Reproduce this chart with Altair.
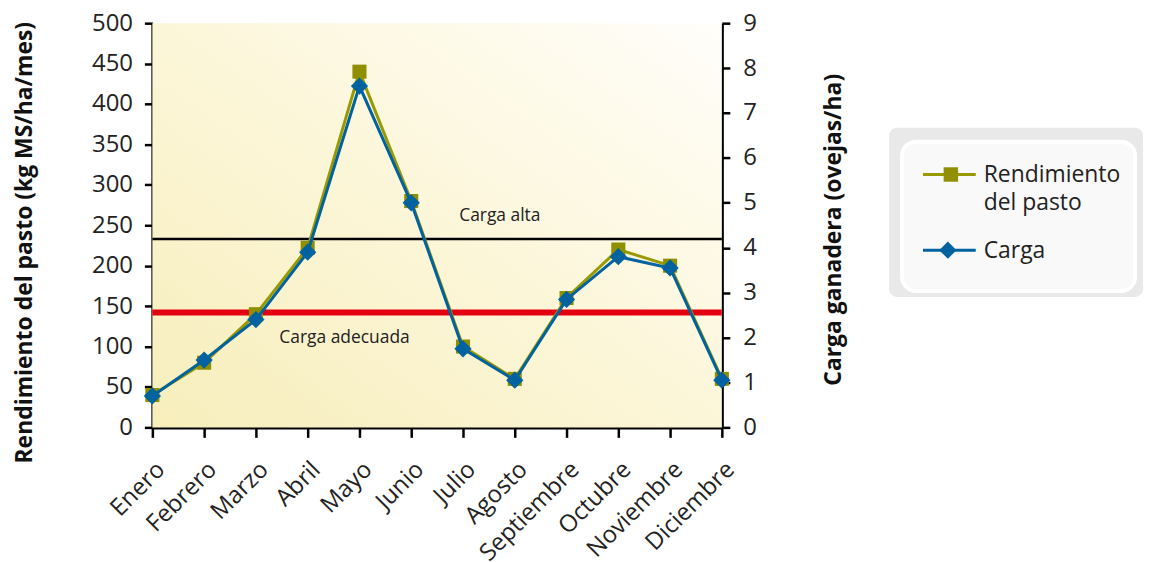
import altair as alt
import pandas as pd

meses = ["Enero", "Febrero", "Marzo", "Abril", "Mayo", "Junio", "Julio",
         "Agosto", "Septiembre", "Octubre", "Noviembre", "Diciembre"]
rendimiento = [40, 80, 140, 222, 440, 280, 100, 60, 160, 220, 200, 60]
carga = [0.7, 1.5, 2.4, 3.9, 7.6, 5.0, 1.75, 1.05, 2.85, 3.8, 3.55, 1.05]
series = ["Rendimiento\ndel pasto", "Carga"]
umbral_nombres = ["Carga alta", "Carga adecuada"]
umbral_valores = [233, 142]          # left axis units
umbral_colores = ["#000000", "#e3000f"]
umbral_grosor = [2.5, 6]
etiqueta_mes = ["Agosto", "Mayo"]
etiqueta_valor = [262, 111]

FONT = "Open Sans"
OLIVE = "#999900"
BLUE = "#00629e"
W, H = 572, 406

df = pd.DataFrame({"mes": meses, "rendimiento": rendimiento, "carga": carga})
df_rules = pd.DataFrame({"nombre": umbral_nombres, "valor": umbral_valores,
                         "color": umbral_colores, "grosor": umbral_grosor})
df_text = pd.DataFrame({"nombre": umbral_nombres, "mes": etiqueta_mes,
                        "valor": etiqueta_valor})

x_enc = alt.X("mes:N", sort=meses, scale=alt.Scale(domain=meses, padding=0),
              axis=alt.Axis(title=None, labelAngle=-45, labelFontSize=24,
                            labelColor="#222222", tickSize=10, tickWidth=2.5,
                            tickColor="black", domainColor="black",
                            domainWidth=3, labelPadding=20, grid=False))

left_scale = alt.Scale(domain=[0, 500], nice=False, zero=True)
left_axis = alt.Axis(values=list(range(0, 501, 50)),
                     title="Rendimiento del pasto (kg MS/ha/mes)",
                     titleFontSize=23, titleFontWeight="bold", titleColor="#111111",
                     titleAngle=270, titleX=-121, titleY=220,
                     titleBaseline="alphabetic", titleAlign="center",
                     labelFontSize=24, labelColor="#222222", tickSize=8,
                     tickWidth=2.5, tickColor="black", domainColor="black",
                     domainWidth=3, labelPadding=12, grid=False)

bg = alt.LinearGradient(
    gradient="linear", x1=0, y1=1, x2=1, y2=0,
    stops=[alt.GradientStop(offset=0, color="#f7eebb"),
           alt.GradientStop(offset=0.5, color="#fcf6d9"),
           alt.GradientStop(offset=1, color="#fffefa")])

background = alt.Chart(pd.DataFrame({"k": [0]})).mark_rect(color=bg).encode(
    x=alt.value(0), x2=alt.value(W), y=alt.value(0), y2=alt.value(H))

rules = alt.Chart(df_rules).mark_rule().encode(
    y=alt.Y("valor:Q", scale=left_scale, axis=left_axis),
    color=alt.Color("color:N", scale=None),
    strokeWidth=alt.StrokeWidth("grosor:Q", scale=None),
)
texts = alt.Chart(df_text).mark_text(font=FONT, fontSize=17.5, color="#222222",
                                     dx=-15).encode(
    x=x_enc,
    y=alt.Y("valor:Q", scale=left_scale, axis=left_axis),
    text="nombre:N",
)
rend_line = alt.Chart(df).mark_line(color=OLIVE, strokeWidth=3).encode(
    x=x_enc, y=alt.Y("rendimiento:Q", scale=left_scale, axis=left_axis))
rend_pts = alt.Chart(df).mark_point(shape="square", filled=True, size=200,
                                    color="#8f8f00", opacity=1).encode(
    x=x_enc, y=alt.Y("rendimiento:Q", scale=left_scale, axis=left_axis))

right_scale = alt.Scale(domain=[0, 9], nice=False, zero=True)
right_axis = alt.Axis(orient="right", values=list(range(0, 10)),
                      title="Carga ganadera (ovejas/ha)",
                      titleFontSize=23, titleFontWeight="bold", titleColor="#111111",
                      titleAngle=270, titleX=119, titleY=207,
                      titleBaseline="alphabetic", titleAlign="center",
                      labelFontSize=24, labelColor="#222222", tickSize=8,
                      tickWidth=2.5, tickColor="black", domainColor="black",
                      domainWidth=3, labelPadding=13, grid=False)
carga_line = alt.Chart(df).mark_line(color=BLUE, strokeWidth=3).encode(
    x=x_enc, y=alt.Y("carga:Q", scale=right_scale, axis=right_axis))
carga_pts = alt.Chart(df).mark_point(shape="diamond", filled=True, size=300,
                                     color=BLUE, opacity=1).encode(
    x=x_enc, y=alt.Y("carga:Q", scale=right_scale, axis=right_axis))

left_group = alt.layer(background, rules, texts, rend_line, rend_pts)
right_group = alt.layer(carga_line, carga_pts)

main = alt.layer(left_group, right_group).resolve_scale(y="independent").properties(
    width=W, height=H)

# ---- legend panel ----
LW = 245
df_leg = pd.DataFrame({"serie": series,
                       "color": ["#8f8f00", BLUE],
                       "linea": [OLIVE, BLUE],
                       "ypix": [152, 228]})

box_outer = alt.Chart(pd.DataFrame({"k": [0]})).mark_rect(
    fill="#e9e9e9", cornerRadius=8).encode(
    x=alt.value(0), x2=alt.value(LW + 10), y=alt.value(105), y2=alt.value(275))
box_inner = alt.Chart(pd.DataFrame({"k": [0]})).mark_rect(
    fill="#f9f9f9", stroke="white", strokeWidth=4, cornerRadius=14).encode(
    x=alt.value(13), x2=alt.value(LW + 2), y=alt.value(119), y2=alt.value(269))
leg_y = alt.Y("ypix:Q", scale=alt.Scale(domain=[0, H], range=[0, H]), axis=None)
leg_lines = alt.Chart(df_leg).mark_rule(strokeWidth=3).encode(
    x=alt.value(34), x2=alt.value(87), y=leg_y,
    color=alt.Color("linea:N", scale=None))
leg_sq = alt.Chart(df_leg.iloc[[0]]).mark_point(shape="square", filled=True,
                                                 size=210, opacity=1).encode(
    x=alt.value(62), y=leg_y, color=alt.Color("color:N", scale=None))
leg_dm = alt.Chart(df_leg.iloc[[1]]).mark_point(shape="diamond", filled=True,
                                                 size=300, opacity=1).encode(
    x=alt.value(59), y=leg_y, color=alt.Color("color:N", scale=None))
leg_txt = alt.Chart(df_leg).mark_text(font=FONT, fontSize=23, color="#222222",
                                      align="left", baseline="top",
                                      lineBreak="\n", lineHeight=28, dy=-10).encode(
    x=alt.value(95), y=leg_y, text="serie:N")

legend = alt.layer(box_outer, box_inner, leg_lines, leg_sq, leg_dm, leg_txt).properties(
    width=LW, height=H)

chart = alt.hconcat(main, legend, spacing=168, bounds="flush").properties(
    padding={"left": 5, "top": 2, "right": 0, "bottom": 0}
).configure(font=FONT).configure_view(stroke=None)

chart.save("out.html", embed_options={"renderer": "svg", "actions": False})
